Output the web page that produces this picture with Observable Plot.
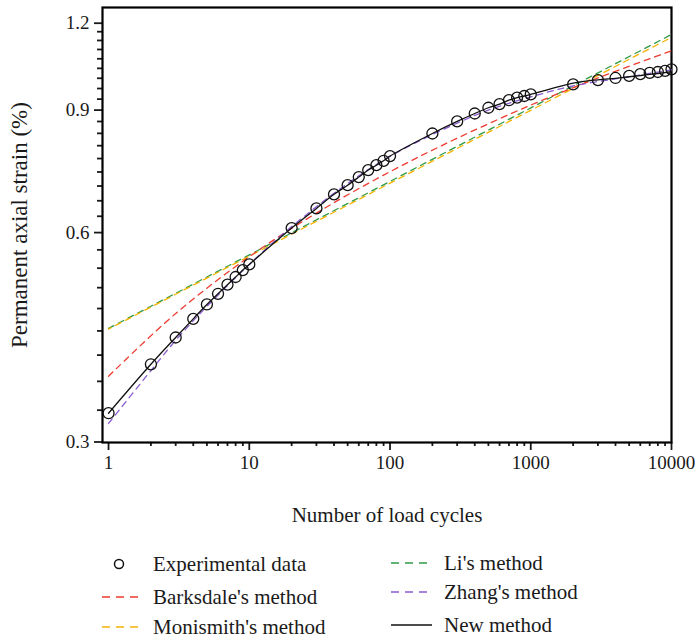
<!DOCTYPE html>
<html><head><meta charset="utf-8">
<script src="https://cdn.jsdelivr.net/npm/d3@7"></script>
<script src="https://cdn.jsdelivr.net/npm/@observablehq/plot@0.6"></script>
<style>
body{margin:0;background:#fff;}
#chart{width:695px;height:639px;position:relative;font-family:"Liberation Serif","Times New Roman",serif;color:#1a1a1a;}
.legend{position:relative;width:695px;height:99px;}
.item{position:absolute;height:24px;display:flex;align-items:center;font-size:21px;white-space:nowrap;}
.item svg{position:absolute;left:0;top:0;}
.item span{position:absolute;top:0;line-height:24px;}
</style></head><body><div id="chart"></div><script>
// Data
const cycles = [1,2,3,4,5,6,7,8,9,10,20,30,40,50,60,70,80,90,100,200,300,400,500,600,700,800,900,1000,2000,3000,4000,5000,6000,7000,8000,9000,10000];
const experimental = [0.330,0.388,0.424,0.451,0.473,0.490,0.505,0.518,0.530,0.540,0.609,0.650,0.681,0.702,0.721,0.738,0.750,0.761,0.773,0.833,0.867,0.890,0.907,0.918,0.930,0.938,0.943,0.948,0.980,0.994,1.001,1.008,1.014,1.018,1.021,1.025,1.030];
const newMethod = [0.330,0.388,0.424,0.451,0.473,0.490,0.505,0.518,0.530,0.540,0.609,0.650,0.681,0.702,0.721,0.738,0.750,0.761,0.773,0.833,0.867,0.890,0.907,0.918,0.930,0.938,0.943,0.948,0.984,0.995,1.000,1.005,1.009,1.013,1.016,1.019,1.022];
const barksdaleN = [1,3,10,30,100,300,1000,3000,10000];
const barksdale = [0.373,0.459,0.554,0.640,0.734,0.820,0.915,1.001,1.095];
const monismithN = [1,10000];
const monismith = [0.436,1.145];
const liN = [1,10000];
const li = [0.437,1.156];
const zhangN = [1,2,3,5,10,20,50,100,200,500,1000,2000,5000,10000];
const zhang = [0.319,0.380,0.420,0.470,0.540,0.612,0.706,0.772,0.830,0.900,0.940,0.975,1.005,1.028];
const xTicks = [1,10,100,1000,10000];
const yTicks = [0.3,0.6,0.9,1.2];
const seriesNames = ["Experimental data","Barksdale's method","Monismith's method","Li's method","Zhang's method","New method"];
const colors = {barksdale:"#ee3b2f", monismith:"#f5b301", li:"#2f9a48", zhang:"#8a5cd1", newm:"#111111"};

const xMinor = [];
for (const d of [1,10,100,1000]) for (let k = 2; k <= 9; k++) xMinor.push(d*k);
const yMinor = [];
for (let k = 1; k < 27; k++) if (k % 9 !== 0) yMinor.push(0.3 + k/30);

const rows = (xs, ys) => xs.map((n, i) => ({n, v: ys[i]}));
const dash = "6,5";

const plot = Plot.plot({
  width: 695, height: 540,
  marginTop: 7, marginLeft: 102, marginRight: 24, marginBottom: 98,
  style: {fontFamily: "'Liberation Serif', 'Times New Roman', serif", fontSize: "19px", color: "#1a1a1a", background: "#fff"},
  x: {type: "log", domain: [0.906, 10000]},
  y: {type: "log", domain: [0.2995, 1.264]},
  marks: [
    Plot.axisX(xMinor, {tickSize: 4, strokeWidth: 1.8, fill: "none", label: null}),
    Plot.axisX(xTicks, {tickSize: 8, strokeWidth: 1.8, tickPadding: 5, tickFormat: d => String(d), fontSize: 19, label: null}),
    Plot.axisX({ticks: [], tickSize: 0, fontSize: 21,
      label: "Number of load cycles", labelAnchor: "center", labelArrow: "none", labelOffset: 79}),
    Plot.axisY(yMinor, {tickSize: 5, strokeWidth: 1.8, fill: "none", label: null}),
    Plot.axisY(yTicks, {tickSize: 8, strokeWidth: 1.8, tickPadding: 5, tickFormat: d => d.toFixed(1), fontSize: 19, label: null}),
    Plot.axisY({ticks: [], tickSize: 0, fontSize: 23,
      label: "Permanent axial strain (%)", labelAnchor: "center", labelArrow: "none", labelOffset: 92}),
    Plot.frame({stroke: "#000", strokeWidth: 2.2}),
    Plot.line(rows(liN, li), {x: "n", y: "v", stroke: colors.li, strokeWidth: 1.3, strokeDasharray: dash}),
    Plot.line(rows(monismithN, monismith), {x: "n", y: "v", stroke: colors.monismith, strokeWidth: 1.3, strokeDasharray: dash, strokeDashoffset: 3}),
    Plot.line(rows(barksdaleN, barksdale), {x: "n", y: "v", stroke: colors.barksdale, strokeWidth: 1.3, strokeDasharray: dash, curve: "catmull-rom"}),
    Plot.line(rows(zhangN, zhang), {x: "n", y: "v", stroke: colors.zhang, strokeWidth: 1.3, strokeDasharray: dash, curve: "catmull-rom"}),
    Plot.line(rows(cycles, newMethod), {x: "n", y: "v", stroke: colors.newm, strokeWidth: 1.3, curve: "catmull-rom"}),
    Plot.dot(rows(cycles, experimental), {x: "n", y: "v", r: 5.5, stroke: "#111", strokeWidth: 1.3, fill: "none"})
  ]
});

const chart = document.getElementById("chart");
chart.appendChild(plot);

// Legend (HTML, below the SVG)
const legend = document.createElement("div");
legend.className = "legend";
const items = [
  {name: seriesNames[0], kind: "dot", color: "#111", left: 102, top: 12, textLeft: 153},
  {name: seriesNames[1], kind: "dash", color: colors.barksdale, left: 102, top: 45, textLeft: 153},
  {name: seriesNames[2], kind: "dash", color: colors.monismith, left: 102, top: 75, textLeft: 153},
  {name: seriesNames[3], kind: "dash", color: colors.li, left: 391, top: 11, textLeft: 444},
  {name: seriesNames[4], kind: "dash", color: colors.zhang, left: 391, top: 40, textLeft: 444},
  {name: seriesNames[5], kind: "solid", color: colors.newm, left: 391, top: 73, textLeft: 444}
];
for (const it of items) {
  const d = document.createElement("div");
  d.className = "item";
  d.style.left = it.left + "px";
  d.style.top = it.top + "px";
  d.style.width = (695 - it.left) + "px";
  let sw;
  if (it.kind === "dot") sw = `<svg width="40" height="24"><circle cx="17" cy="12" r="4.5" fill="none" stroke="${it.color}" stroke-width="1.5"/></svg>`;
  else if (it.kind === "dash") sw = `<svg width="42" height="24"><line x1="0" y1="12" x2="36" y2="12" stroke="${it.color}" stroke-width="1.4" stroke-dasharray="8,6"/></svg>`;
  else sw = `<svg width="42" height="24"><line x1="0" y1="12" x2="41" y2="12" stroke="${it.color}" stroke-width="1.6"/></svg>`;
  d.innerHTML = sw + `<span style="left:${it.textLeft - it.left}px">${it.name}</span>`;
  legend.appendChild(d);
}
chart.appendChild(legend);
</script></body></html>
